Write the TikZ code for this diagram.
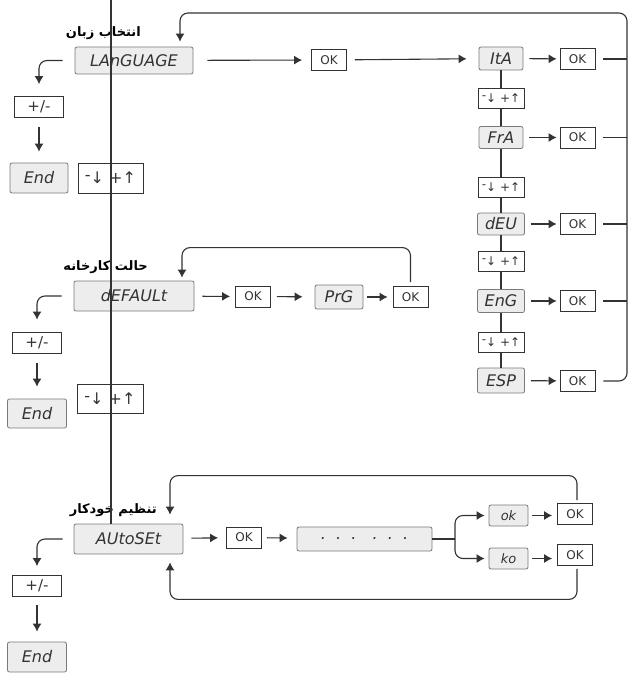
\documentclass[tikz,border=0pt]{standalone}
\usepackage{fontspec}
\setmainfont{DejaVu Sans}
\newfontfamily\farsi[Script=Arabic]{DejaVu Sans}
\TeXXeTstate=1
\usetikzlibrary{arrows.meta}
\definecolor{ink}{HTML}{333333}
\definecolor{lcd}{HTML}{EDEDED}
\definecolor{edge}{HTML}{7A7A7A}
\begin{document}
\begin{tikzpicture}[x=1pt,y=-1pt,>={Latex[length=8pt,width=9pt]},
    wire/.style={draw=ink,line width=1.1pt},
    arr/.style={wire,->,shorten <=7pt,shorten >=5pt},
    disp/.style={draw=edge,fill=lcd,line width=0.8pt,rounded corners=2pt,inner sep=0pt,text=ink,font=\fontsize{16}{16}\selectfont\itshape},
    okbox/.style={draw=ink,fill=white,line width=0.8pt,minimum width=35pt,minimum height=21pt,inner sep=0pt,text=ink,font=\fontsize{12}{12}\selectfont},
    udbox/.style={draw=ink,fill=white,line width=0.8pt,minimum width=46pt,minimum height=20pt,inner sep=0pt,text=ink,font=\fontsize{12}{12}\selectfont},
    pmbox/.style={draw=ink,fill=white,line width=0.8pt,minimum width=49pt,minimum height=21pt,inner sep=0pt,text=ink,font=\fontsize{15}{15}\selectfont},
    lbl/.style={anchor=east,inner sep=0pt,text=black,font=\farsi\bfseries\fontsize{13}{13}\selectfont}]
  \useasboundingbox [fill=white] (0,0) rectangle (630,676);
  \node [lbl] (lbl1) at (141,33) {\beginR انتخاب زبان\endR};
  \node [disp,minimum width=118pt,minimum height=27pt] (lang) at (134,60.5) {LAnGUAGE};
  \node [okbox] (ok1) at (329,60) {OK};
  \node [disp,minimum width=44pt,minimum height=23pt] (ita) at (501,58.5) {ItA};
  \node [okbox] (okita) at (577.5,59) {OK};
  \node [udbox] (ud1) at (501,98) {\raisebox{2.5pt}{-}↓ +↑};
  \node [disp,minimum width=44pt,minimum height=22pt] (fra) at (501,137.5) {FrA};
  \node [okbox] (okfra) at (577.5,137.5) {OK};
  \node [udbox] (ud2) at (501,187) {\raisebox{2.5pt}{-}↓ +↑};
  \node [disp,minimum width=47pt,minimum height=22pt] (deu) at (501,224) {dEU};
  \node [okbox] (okdeu) at (577.5,224) {OK};
  \node [udbox] (ud3) at (501,261) {\raisebox{2.5pt}{-}↓ +↑};
  \node [disp,minimum width=47pt,minimum height=23pt] (eng) at (501,301) {EnG};
  \node [okbox] (okeng) at (577.5,301) {OK};
  \node [udbox] (ud4) at (501,342) {\raisebox{2.5pt}{-}↓ +↑};
  \node [disp,minimum width=47pt,minimum height=25pt] (esp) at (501,380.5) {ESP};
  \node [okbox] (okesp) at (577.5,381) {OK};
  \node [pmbox] (pm1) at (39,107) {+/-};
  \node [disp,minimum width=58pt,minimum height=30pt] (end1) at (39,178) {End};
  \node [udbox,minimum width=65pt,minimum height=30pt,font=\fontsize{16}{16}\selectfont] (ud0) at (110.5,178) {\raisebox{3pt}{-}↓ +↑};
  \node [lbl] (lbl2) at (148,267) {\beginR حالت کارخانه\endR};
  \node [disp,minimum width=120pt,minimum height=30pt] (dflt) at (134,296) {dEFAULt};
  \node [okbox] (okd1) at (253,296.5) {OK};
  \node [disp,minimum width=48pt,minimum height=24pt] (prg) at (339,297) {PrG};
  \node [okbox] (okd2) at (410.5,297) {OK};
  \node [pmbox] (pm2) at (37,342.5) {+/-};
  \node [disp,minimum width=59pt,minimum height=29pt] (end2) at (37,413.5) {End};
  \node [udbox,minimum width=66pt,minimum height=29pt,font=\fontsize{16}{16}\selectfont] (ud5) at (110,398.5) {\raisebox{3pt}{-}↓ +↑};
  \node [lbl] (lbl3) at (157,510) {\beginR تنظیم خودکار\endR};
  \node [disp,minimum width=109pt,minimum height=30pt] (auto) at (128.5,539) {AUtoSEt};
  \node [okbox] (oka1) at (244,537.5) {OK};
  \node [disp,minimum width=135pt,minimum height=24pt] (dots) at (364.5,539) {.\ \ .\ \ .\hspace{16pt}.\ \ .\ \ .};
  \node [disp,minimum width=39pt,minimum height=21pt,font=\fontsize{13}{13}\selectfont\itshape] (okk) at (508.5,515.5) {ok};
  \node [disp,minimum width=39pt,minimum height=21pt,font=\fontsize{13}{13}\selectfont\itshape] (ko) at (508.5,558.5) {ko};
  \node [okbox] (oka) at (575,514) {OK};
  \node [okbox] (okb) at (575,555) {OK};
  \node [pmbox] (pm3) at (37,586) {+/-};
  \node [disp,minimum width=59pt,minimum height=30pt] (end3) at (37,657) {End};
  \coordinate (spine) at (111,0);
  \coordinate (rline) at (627,13);
  \coordinate (fork) at (455,539);
  \draw [wire] (spine) -- (spine |- auto.north);
  \draw [arr,shorten <=14pt,shorten >=9pt] (lang) -- (ok1);
  \draw [arr,shorten <=8pt,shorten >=12pt] (ok1) -- (ita);
  \foreach \lang in {ita,fra,deu,eng,esp} {
    \draw [arr,shorten <=6pt,shorten >=3pt] (\lang) -- (ok\lang);
  }
  \foreach \lang in {ita,fra,deu,eng} {
    \draw [wire] ([xshift=8pt]ok\lang.east) -- (ok\lang.east -| rline);
  }
  \draw [wire] (ita) -- (ud1) -- (fra) -- (ud2) -- (deu) -- (ud3) -- (eng) -- (ud4) -- (esp);
  \draw [wire,->,rounded corners=8pt,shorten >=5pt] ([xshift=8pt]okesp.east) -| (rline) -| ([xshift=46pt]lang.north);
  \draw [wire,->,rounded corners=8pt,shorten <=12pt,shorten >=12pt] (lang.west) -| (pm1.north);
  \draw [arr,shorten <=9pt,shorten >=11pt] (pm1) -- (end1);
  \draw [arr,shorten <=8pt,shorten >=5pt] (dflt) -- (okd1);
  \draw [arr,shorten <=6pt,shorten >=12pt] (okd1) -- (prg);
  \draw [arr,shorten <=4pt,shorten >=5pt] (prg) -- (okd2);
  \draw [wire,->,rounded corners=8pt] ([yshift=4pt]okd2.north) |- ([xshift=48pt,yshift=33pt]dflt.north) -- ([xshift=48pt,yshift=3pt]dflt.north);
  \draw [wire,->,rounded corners=8pt,shorten <=12pt,shorten >=12pt] (dflt.west) -| (pm2.north);
  \draw [arr,shorten <=10pt,shorten >=12pt] (pm2) -- (end2);
  \draw [arr,shorten <=8pt,shorten >=8pt] (auto) -- (oka1);
  \draw [arr,shorten <=5pt,shorten >=9pt] (oka1) -- (dots);
  \draw [wire] (dots.east) -- (fork);
  \draw [wire,->,rounded corners=8pt,shorten >=4pt] (fork) |- (okk.west);
  \draw [wire,->,rounded corners=8pt,shorten >=4pt] (fork) |- (ko.west);
  \draw [arr,shorten <=4pt,shorten >=5pt] (okk) -- (okk -| oka.west);
  \draw [arr,shorten <=4pt,shorten >=5pt] (ko) -- (ko -| okb.west);
  \draw [wire,->,rounded corners=8pt] ([xshift=2pt,yshift=3pt]oka.north) |- ([xshift=41.5pt,yshift=48pt]auto.north) -- ([xshift=41.5pt,yshift=9pt]auto.north);
  \draw [wire,->,rounded corners=8pt] ([xshift=2pt,yshift=-3pt]okb.south) |- ([xshift=41.5pt,yshift=-45pt]auto.south) -- ([xshift=41.5pt,yshift=-8pt]auto.south);
  \draw [wire,->,rounded corners=8pt,shorten <=11pt,shorten >=9pt] (auto.west) -| (pm3.north);
  \draw [arr,shorten <=8pt,shorten >=10pt] (pm3) -- (end3);
\end{tikzpicture}
\end{document}
